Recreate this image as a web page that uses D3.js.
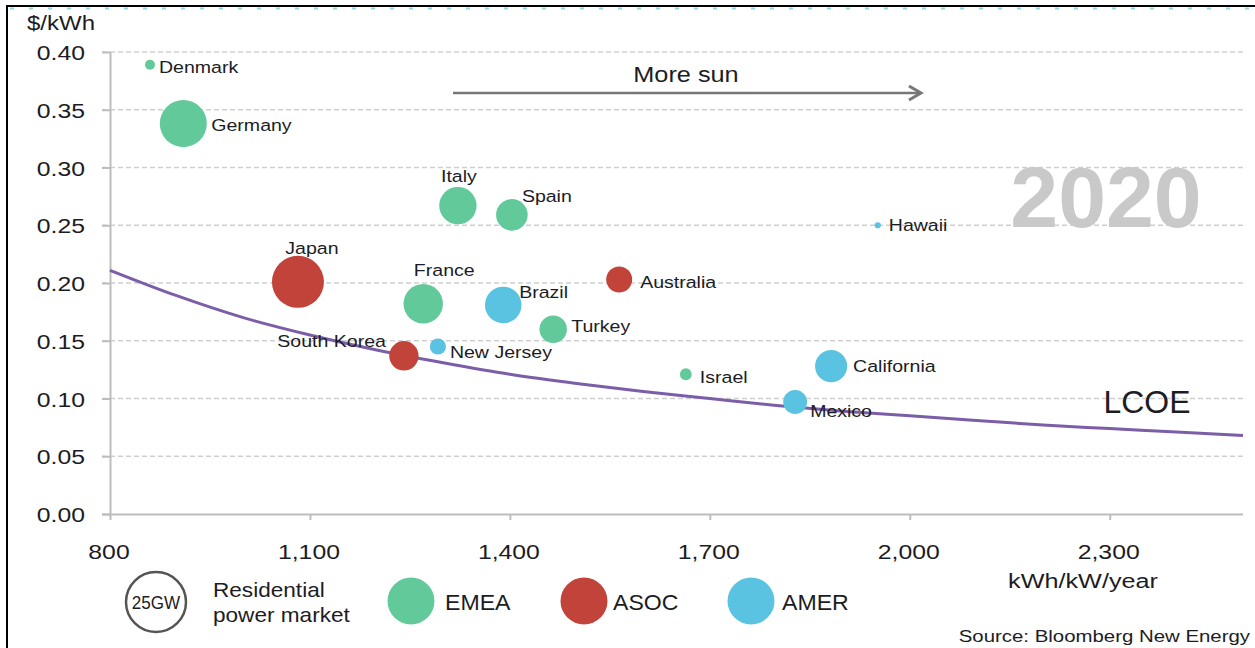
<!DOCTYPE html>
<html>
<head>
<meta charset="utf-8">
<script src="https://cdn.jsdelivr.net/npm/d3@7"></script>
<style>
  html, body { margin: 0; padding: 0; background: #fff; }
  svg { display: block; font-family: "Liberation Sans", Arial, Helvetica, sans-serif; }
</style>
</head>
<body>
<svg id="chart" width="1255" height="648"></svg>
<script>
// ---------------- data ----------------
const markets    = ["Denmark","Germany","Italy","Spain","Japan","France","Brazil","Australia","Turkey","South Korea","New Jersey","Israel","California","Mexico","Hawaii"];
const regions    = ["EMEA","EMEA","EMEA","EMEA","ASOC","EMEA","AMER","ASOC","EMEA","ASOC","AMER","EMEA","AMER","AMER","AMER"];
const yieldKWh   = [860, 910, 1322, 1403, 1082, 1270, 1390, 1564, 1465, 1241, 1292, 1664, 1882, 1828, 1952];
const costUSD    = [0.389, 0.338, 0.267, 0.259, 0.201, 0.182, 0.181, 0.203, 0.160, 0.137, 0.145, 0.121, 0.128, 0.097, 0.250];
const capacityGW = [0.65, 14.4, 9.1, 6.5, 17.6, 10.1, 8.7, 4.4, 4.9, 5.6, 1.7, 0.9, 6.7, 3.7, 0.25];

const lcoeYield = [800, 900, 1000, 1100, 1200, 1300, 1400, 1500, 1600, 1700, 1800, 1900, 2000, 2100, 2200, 2300, 2400, 2500];
const lcoeCost  = [0.211, 0.189, 0.170, 0.155, 0.142, 0.131, 0.121, 0.113, 0.106, 0.100, 0.094, 0.089, 0.085, 0.081, 0.077, 0.074, 0.071, 0.068];

const regionNames = ["EMEA", "ASOC", "AMER"];
const xTicks = [800, 1100, 1400, 1700, 2000, 2300];
const yTicks = [0, 0.05, 0.10, 0.15, 0.20, 0.25, 0.30, 0.35, 0.40];
const legendSizeGW = 25;

// ---------------- layout / style ----------------
const colors = { EMEA: "#62c99b", ASOC: "#c1433a", AMER: "#5bc3e2" };
const labelPlace = {
  "Denmark":     [9, 2, "start"],
  "Germany":     [28, 1, "start"],
  "Italy":       [1, -30, "middle"],
  "Spain":       [10, -19, "start"],
  "Japan":       [14, -34, "middle"],
  "France":      [21, -34, "middle"],
  "Brazil":      [16, -13, "start"],
  "Australia":   [21, 2, "start"],
  "Turkey":      [18, -3, "start"],
  "South Korea": [-18, -15, "end"],
  "New Jersey":  [12, 5, "start"],
  "Israel":      [14, 3, "start"],
  "California":  [22, 0, "start"],
  "Mexico":      [15, 9, "start"],
  "Hawaii":      [11, 0, "start"]
};

const svg = d3.select("#chart");
const x = d3.scaleLinear().domain([800, 2500]).range([110, 1243]);
const y = d3.scaleLinear().domain([0, 0.40]).range([514, 52]);
const r = d3.scaleSqrt().domain([0, 25]).range([0, 31]);

// helper: horizontally stretched text
function stxt(g, tx, ty, str, size, sx, anchor, opts = {}) {
  const t = g.append("text")
    .attr("transform", `translate(${tx},${ty}) scale(${sx},1)`)
    .attr("text-anchor", anchor || "start")
    .attr("font-size", size)
    .attr("fill", opts.fill || "#1c1c24")
    .text(str);
  if (opts.weight) t.attr("font-weight", opts.weight);
  if (opts.baseline) t.attr("dominant-baseline", opts.baseline);
  return t;
}

// frame
svg.append("line").attr("x1", 7).attr("x2", 7).attr("y1", 5).attr("y2", 648).attr("stroke", "#000").attr("stroke-width", 2);
svg.append("line").attr("x1", 6).attr("x2", 1255).attr("y1", 6).attr("y2", 6).attr("stroke", "#000").attr("stroke-width", 2);
svg.append("line").attr("x1", 10).attr("x2", 1255).attr("y1", 8.5).attr("y2", 8.5)
  .attr("stroke", "#8fd6ee").attr("stroke-width", 2).attr("stroke-dasharray", "4,15");

// gridlines
const grid = svg.append("g");
grid.selectAll("line").data(yTicks.filter(d => d > 0)).join("line")
  .attr("x1", 102).attr("x2", 1243)
  .attr("y1", d => y(d)).attr("y2", d => y(d))
  .attr("stroke", "#cfcfcf").attr("stroke-width", 1.5).attr("stroke-dasharray", "5,3");

// axes (lines + ticks via d3 axes)
const yAxis = svg.append("g").attr("transform", "translate(110,0)")
  .call(d3.axisLeft(y).tickValues(yTicks).tickSize(8).tickFormat(""));
const xAxis = svg.append("g").attr("transform", "translate(0,514)")
  .call(d3.axisBottom(x).tickValues(xTicks).tickSize(6).tickFormat(""));
[yAxis, xAxis].forEach(a => {
  a.select(".domain").attr("stroke", "#bdbdbd").attr("stroke-width", 2);
  a.selectAll(".tick line").attr("stroke", "#bdbdbd").attr("stroke-width", 2);
});
xAxis.select(".domain").attr("d", `M102,0.5H1243`);
yAxis.select(".domain").attr("d", `M0.5,${y(0.40)}V${y(0)}`);

// tick labels
const tl = svg.append("g");
yTicks.forEach(v => stxt(tl, 85, y(v) + 8, d3.format(".2f")(v), 21, 1.18, "end"));
xTicks.forEach(v => stxt(tl, x(v) - 1, 559, d3.format(",")(v), 21, 1.18, "middle"));
stxt(tl, 27, 30, "$/kWh", 20, 1.2, "start");
stxt(tl, 1083, 588, "kWh/kW/year", 21, 1.2, "middle");

// LCOE curve
const lcoe = lcoeYield.map((v, i) => [v, lcoeCost[i]]);
svg.append("path").datum(lcoe)
  .attr("d", d3.line().x(d => x(d[0])).y(d => y(d[1])).curve(d3.curveMonotoneX))
  .attr("fill", "none").attr("stroke", "#7b5ea7").attr("stroke-width", 3);

// bubbles
const pts = markets.map((m, i) => ({ name: m, region: regions[i], yld: yieldKWh[i], cost: costUSD[i], gw: capacityGW[i] }));
svg.append("g").selectAll("circle").data(pts).join("circle")
  .attr("cx", d => x(d.yld)).attr("cy", d => y(d.cost)).attr("r", d => r(d.gw))
  .attr("fill", d => colors[d.region]);

// labels
const lg = svg.append("g");
pts.forEach(d => {
  const p = labelPlace[d.name];
  stxt(lg, x(d.yld) + p[0], y(d.cost) + p[1] + 6, d.name, 17, 1.15, p[2]);
});

// annotations
stxt(svg, 686, 82, "More sun", 22, 1.15, "middle");
svg.append("line").attr("x1", 453).attr("x2", 920).attr("y1", 93).attr("y2", 93)
  .attr("stroke", "#777").attr("stroke-width", 2.5);
svg.append("path").attr("d", "M909,86 L921,93 L909,100").attr("fill", "none")
  .attr("stroke", "#777").attr("stroke-width", 3).attr("stroke-linejoin", "miter");
stxt(svg, 1106, 227, "2020", 86, 1.0, "middle", { fill: "#c9c9c9", weight: "bold" });
stxt(svg, 1147, 413, "LCOE", 31, 1.03, "middle");

// legend
const leg = svg.append("g");
leg.append("circle").attr("cx", 156).attr("cy", 602).attr("r", r(legendSizeGW) - 1)
  .attr("fill", "none").attr("stroke", "#555").attr("stroke-width", 2.5);
stxt(leg, 156, 609, legendSizeGW + "GW", 18, 0.95, "middle");
stxt(leg, 213, 597, "Residential", 20, 1.13, "start");
stxt(leg, 213, 622, "power market", 20, 1.13, "start");
const legX = [411, 584, 751];
const legTX = [445, 613, 782];
regionNames.forEach((rn, i) => {
  leg.append("circle").attr("cx", legX[i]).attr("cy", 601).attr("r", 23.5).attr("fill", colors[rn]);
  stxt(leg, legTX[i], 610, rn, 22, 1.05, "start");
});
stxt(svg, 1250, 642, "Source: Bloomberg New Energy", 17, 1.2, "end");
</script>
</body>
</html>
